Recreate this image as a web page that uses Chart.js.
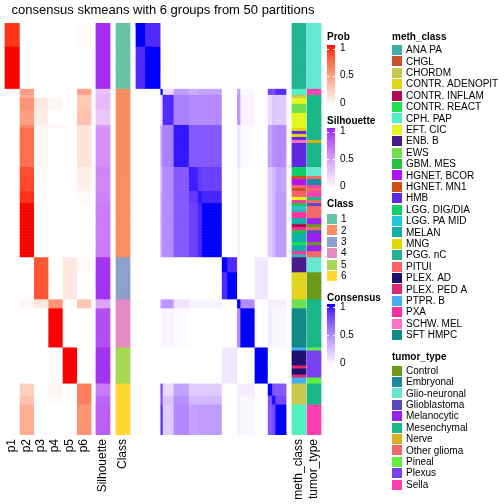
<!DOCTYPE html>
<html><head><meta charset="utf-8">
<script src="https://cdn.jsdelivr.net/npm/chart.js@4.4.1/dist/chart.umd.min.js"></script>
<style>html,body{margin:0;padding:0;background:#fff}canvas{display:block}</style>
</head><body>
<canvas id="c" width="504" height="504"></canvas>
<script>
// ================= DATA =================
const chartTitle = "consensus skmeans with 6 groups from 50 partitions";
const classNames = ["1","2","3","4","5","6"];
const classSizes = [22,56,14,16,12,17];
const classColors = ["#66C2A5","#FC8D62","#8DA0CB","#E78AC3","#A6D854","#FFD92F"];

// consecutive row segments sharing membership probabilities / silhouette
const segSizes = [8,14, 2,1,4,5,1,13,3,5,4,18, 5,9, 3,13, 12, 4,3,10];
const p1  = [0.92,1, 0,0,0,0,0,0,0,0,0,0, 0,0, 0,0, 0, 0,0,0];
const p2  = [0,0, 0.5,0.42,0.55,0.5,0.62,0.72,0.85,0.87,0.93,1, 0,0, 0.04,0, 0, 0.25,0.32,0.42];
const p3  = [0,0, 0,0,0.12,0.1,0.05,0.03,0.02,0.02,0,0, 0.82,0.82, 0.12,0, 0, 0,0,0];
const p4  = [0,0, 0,0,0.04,0,0.05,0,0,0,0,0, 0,0, 0.55,1, 0, 0.05,0.02,0];
const p5  = [0,0, 0,0,0,0,0,0,0,0,0,0, 0.12,0.12, 0,0, 1, 0,0,0];
const p6  = [0.03,0, 0.47,0.3,0.28,0.32,0.15,0.15,0.08,0.08,0.03,0, 0.03,0, 0.3,0, 0, 0.65,0.65,0.55];
const silhouette = [0.97,0.97, 0.3,0.35,0.35,0.28,0.5,0.55,0.6,0.58,0.62,0.65, 0.95,0.95, 0.45,0.85, 0.95, 0.65,0.75,0.78];

// consensus: sub-groups of samples (in row order) and block consensus values
const consGroupSizes = [8,14,2,10,14,8,4,18,5,9,3,13,12,4,3,10];
const consensusBlocks = [
 [1,.9,0,0,0,0,0,0,0,0,0,0,0,0,0,0],
 [.9,1,0,0,0,0,0,0,0,0,0,0,0,0,0,0],
 [0,0,1,.15,.42,.35,.4,.4,0,0,.4,.03,0,.8,.76,.89],
 [0,0,.15,.9,.55,.5,.5,.5,0,0,.45,.05,0,.15,.25,.22],
 [0,0,.42,.55,.96,.72,.72,.72,0,0,.12,.02,0,.4,.48,.5],
 [0,0,.35,.5,.72,.94,.85,.82,0,0,.05,0,0,.22,.3,.4],
 [0,0,.4,.5,.72,.85,.96,.92,0,0,.05,0,0,.22,.3,.43],
 [0,0,.4,.5,.72,.82,.92,1,0,0,.05,0,0,.22,.3,.43],
 [0,0,0,0,0,0,0,0,1,.9,0,0,.1,0,0,0],
 [0,0,0,0,0,0,0,0,.9,1,0,0,.1,0,0,0],
 [0,0,.4,.45,.12,.05,.05,.05,0,0,1,.5,0,.07,.07,.07],
 [0,0,.03,.05,.02,0,0,0,0,0,.5,1,0,.08,.04,.04],
 [0,0,0,0,0,0,0,0,.1,.1,0,0,1,0,0,0],
 [0,0,.8,.15,.4,.22,.22,.22,0,0,.07,.08,0,1,.75,.72],
 [0,0,.76,.25,.48,.3,.3,.3,0,0,.07,.04,0,.75,.98,.78],
 [0,0,.89,.22,.5,.4,.43,.43,0,0,.07,.04,0,.72,.78,1]
];

const methLevels = ["ANA PA","CHGL","CHORDM","CONTR. ADENOPIT","CONTR. INFLAM","CONTR. REACT","CPH. PAP","EFT. CIC","ENB. B","EWS","GBM. MES","HGNET. BCOR","HGNET. MN1","HMB","LGG. DIG/DIA","LGG. PA MID","MELAN","MNG","PGG. nC","PITUI","PLEX. AD","PLEX. PED A","PTPR. B","PXA","SCHW. MEL","SFT HMPC"];
const methColors = ["#3AAFB0","#C8502E","#C8C850","#E2D41E","#B0084A","#20E050","#52F0C2","#E2F820","#4A1A8A","#70E050","#20C040","#B010FF","#D05010","#6028E0","#10D068","#20C8D8","#10B0A8","#E0D800","#22B390","#FF6262","#201070","#E02870","#42B0F0","#FF30A0","#FF70C8","#108888"];
const methRuns = [
 ["PGG. nC",22],
 ["CPH. PAP",2],["CHORDM",1],["EFT. CIC",2],["EWS",3],["EFT. CIC",5],["MNG",1],["HMB",1],["MNG",1],["HMB",1],["SCHW. MEL",1],["HMB",8],
 ["LGG. DIG/DIA",3],["HGNET. MN1",1],["HGNET. BCOR",2],["PITUI",1],["CHGL",1],["PITUI",2],["EFT. CIC",1],["PXA",1],["GBM. MES",1],["LGG. PA MID",1],["ANA PA",1],["PXA",2],["MELAN",2],["CONTR. INFLAM",1],["PXA",1],["GBM. MES",1],["MELAN",3],["CONTR. REACT",1],["MELAN",2],["PXA",1],["ANA PA",1],
 ["ENB. B",5],["CONTR. ADENOPIT",9],
 ["EWS",3],["SFT HMPC",13],
 ["PTPR. B",1],["PLEX. AD",5],["PLEX. PED A",1],["PLEX. AD",2],["PLEX. PED A",1],["PTPR. B",2],
 ["CHORDM",7],["CPH. PAP",10]
];

const tumorLevels = ["Control","Embryonal","Glio-neuronal","Glioblastoma","Melanocytic","Mesenchymal","Nerve","Other glioma","Pineal","Plexus","Sella"];
const tumorColors = ["#6A9A18","#1A8AA0","#66E8D0","#5A48C0","#9A20F0","#18B888","#D8B020","#F06868","#60F040","#7840F0","#FF40B0"];
const tumorRuns = [
 ["Glio-neuronal",22],["Sella",2],["Mesenchymal",15],["Nerve",1],["Mesenchymal",8],["Glio-neuronal",3],["Other glioma",1],["Embryonal",2],
 ["Sella",1],["Other glioma",1],["Sella",2],["Mesenchymal",1],["Other glioma",1],["Glioblastoma",1],["Other glioma",4],["Melanocytic",2],
 ["Control",1],["Other glioma",1],["Glioblastoma",1],["Melanocytic",3],["Control",1],["Melanocytic",2],["Other glioma",2],
 ["Glio-neuronal",5],["Control",9],["Mesenchymal",16],["Pineal",1],["Plexus",9],["Pineal",2],["Mesenchymal",7],["Sella",10]
];

// ================= COLOUR RAMPS (LAB, like colorRamp2) =================
function hexToRgb(h){h=h.replace('#','');return [parseInt(h.slice(0,2),16),parseInt(h.slice(2,4),16),parseInt(h.slice(4,6),16)];}
function rgb2lab(c){const lin=v=>{v/=255;return v<=0.04045?v/12.92:Math.pow((v+0.055)/1.055,2.4)};const R=lin(c[0]),G=lin(c[1]),B=lin(c[2]);
 const X=(0.4124564*R+0.3575761*G+0.1804375*B)/0.95047,Y=(0.2126729*R+0.7151522*G+0.0721750*B),Z=(0.0193339*R+0.1191920*G+0.9503041*B)/1.08883;
 const f=t=>t>0.008856?Math.cbrt(t):7.787*t+16/116;const fx=f(X),fy=f(Y),fz=f(Z);return [116*fy-16,500*(fx-fy),200*(fy-fz)];}
function lab2rgb(l){const fy=(l[0]+16)/116,fx=fy+l[1]/500,fz=fy-l[2]/200;const fi=t=>{const t3=t*t*t;return t3>0.008856?t3:(t-16/116)/7.787};
 const X=fi(fx)*0.95047,Y=fi(fy),Z=fi(fz)*1.08883;
 const R=3.2404542*X-1.5371385*Y-0.4985314*Z,G=-0.9692660*X+1.8760108*Y+0.0415560*Z,B=0.0556434*X-0.2040259*Y+1.0572252*Z;
 const g=v=>{v=v<=0.0031308?12.92*v:1.055*Math.pow(v,1/2.4)-0.055;return Math.round(Math.max(0,Math.min(1,v))*255)};return [g(R),g(G),g(B)];}
function ramp(c0,c1){const a=rgb2lab(hexToRgb(c0)),b=rgb2lab(hexToRgb(c1));return v=>{v=Math.max(0,Math.min(1,v));const c=lab2rgb([0,1,2].map(k=>a[k]+(b[k]-a[k])*v));return `rgb(${c[0]},${c[1]},${c[2]})`;};}
const probCol = ramp('#FFFFFF','#FF0000');
const silCol  = ramp('#FFFFFF','#A020F0');
const consCol = ramp('#FFFFFF','#0000FF');

// ================= ROW EXPANSION =================
function expand(sizes, vals){const out=[];sizes.forEach((s,k)=>{for(let i=0;i<s;i++)out.push(vals[k]);});return out;}
const N = classSizes.reduce((a,b)=>a+b,0);
const sampleIds = Array.from({length:N},(_,i)=>"S"+(i+1));
const rowSeg   = expand(segSizes, segSizes.map((_,k)=>k));
const rowClass = expand(classSizes, classSizes.map((_,k)=>k));
const rowGroup = expand(consGroupSizes, consGroupSizes.map((_,k)=>k));
const rowMeth  = expand(methRuns.map(r=>r[1]), methRuns.map(r=>r[0]));
const rowTumor = expand(tumorRuns.map(r=>r[1]), tumorRuns.map(r=>r[0]));

// ================= LAYOUT (pixels) =================
const HM_TOP = 23, HM_BOTTOM = 435;
const pX0 = 5, pX1 = 91, pW = (pX1-pX0)/6;
const layout = {
  p1:[pX0,pX0+pW], p2:[pX0+pW,pX0+2*pW], p3:[pX0+2*pW,pX0+3*pW], p4:[pX0+3*pW,pX0+4*pW], p5:[pX0+4*pW,pX0+5*pW], p6:[pX0+5*pW,pX1],
  Silhouette:[96,110], Class:[116,130], consensus:[136,286], meth_class:[292,306], tumor_type:[307,321]
};
const consW = (layout.consensus[1]-layout.consensus[0])/N;

const barStyle = {grouped:false, barPercentage:1, categoryPercentage:1, borderWidth:0};
const datasets = [];
function annot(name, colorFn){
  const r = layout[name];
  datasets.push(Object.assign({label:name, data: sampleIds.map(()=>[r[0],r[1]]), backgroundColor: sampleIds.map((_,i)=>colorFn(i))}, barStyle));
}
const probs = {p1,p2,p3,p4,p5,p6};
Object.keys(probs).forEach(k=>annot(k, i=>probCol(probs[k][rowSeg[i]])));
annot("Silhouette", i=>silCol(silhouette[rowSeg[i]]));
annot("Class", i=>classColors[rowClass[i]]);
annot("meth_class", i=>methColors[methLevels.indexOf(rowMeth[i])]);
annot("tumor_type", i=>tumorColors[tumorLevels.indexOf(rowTumor[i])]);
// consensus matrix: one column band per sample sub-group
let cum = 0;
consGroupSizes.forEach((s,j)=>{
  const x0 = layout.consensus[0] + cum*consW, x1 = x0 + s*consW;
  datasets.push(Object.assign({label:"cons"+j, data: sampleIds.map(()=>[x0,x1]),
     backgroundColor: sampleIds.map((_,i)=>consCol(consensusBlocks[rowGroup[i]][j]))}, barStyle));
  cum += s;
});
// self-consensus diagonal (=1)
datasets.push(Object.assign({label:"diag", data: sampleIds.map((_,i)=>[layout.consensus[0]+i*consW, layout.consensus[0]+(i+1)*consW]),
   backgroundColor: consCol(1)}, barStyle));

// ================= TEXT & LEGENDS =================
const FONT = '"Liberation Sans", Arial, Helvetica, sans-serif';
function gradLegend(ctx, title, x, yTitle, top, bot, colFn, labelYs){
  ctx.fillStyle='#000'; ctx.font='bold 10px '+FONT; ctx.textAlign='left'; ctx.textBaseline='alphabetic';
  ctx.fillText(title, x, yTitle);
  for(let y=top;y<bot;y++){ ctx.fillStyle=colFn(1-(y-top)/(bot-top-1)); ctx.fillRect(x,y,8,1); }
  ctx.font='10px '+FONT; ctx.textBaseline='middle';
  [["1",labelYs[0]],["0.5",labelYs[1]],["0",labelYs[2]]].forEach(([t,y])=>{
    ctx.fillStyle='#fff'; ctx.fillRect(x,Math.round(y),2,1); ctx.fillRect(x+6,Math.round(y),2,1);
    ctx.fillStyle='#000'; ctx.fillText(t, x+13, y);
  });
}
function discLegend(ctx, title, x, yTitle, y0, step, levels, colors){
  ctx.fillStyle='#000'; ctx.font='bold 10px '+FONT; ctx.textAlign='left'; ctx.textBaseline='alphabetic';
  ctx.fillText(title, x, yTitle);
  ctx.font='10px '+FONT; ctx.textBaseline='middle';
  levels.forEach((l,k)=>{ const y=y0+k*step; ctx.fillStyle=colors[k]; ctx.fillRect(x,Math.round(y-5),10,10);
    ctx.fillStyle='#000'; ctx.fillText(l, x+14, y+0.5); });
}
const textPlugin = {id:'texts', afterDraw(chart){
  const ctx = chart.ctx; ctx.save();
  ctx.fillStyle='#000'; ctx.font='13px '+FONT; ctx.textAlign='center'; ctx.textBaseline='alphabetic';
  ctx.fillText(chartTitle, 163, 14);
  // column labels
  ctx.font='12px '+FONT;
  ["p1","p2","p3","p4","p5","p6","Silhouette","Class","meth_class","tumor_type"].forEach(n=>{
    const cx=(layout[n][0]+layout[n][1])/2;
    ctx.save(); ctx.translate(cx, HM_BOTTOM+4); ctx.rotate(-Math.PI/2);
    ctx.textAlign='right'; ctx.textBaseline='middle'; ctx.fillText(n,0,0); ctx.restore();
  });
  gradLegend(ctx,"Prob",327,40,45,106,probCol,[48.5,75.5,103]);
  gradLegend(ctx,"Silhouette",327,124,128,189,silCol,[131.5,159,186.5]);
  discLegend(ctx,"Class",327,207,219,11.4,classNames,classColors);
  gradLegend(ctx,"Consensus",327,301,304,366,consCol,[307,335,363]);
  discLegend(ctx,"meth_class",392,40,50,11.4,methLevels,methColors);
  discLegend(ctx,"tumor_type",392,360,370.5,11.4,tumorLevels,tumorColors);
  ctx.restore();
}};

new Chart(document.getElementById('c'), {
  type:'bar',
  data:{labels:sampleIds, datasets},
  options:{
    indexAxis:'y', responsive:false, animation:false, events:[],
    layout:{padding:{top:HM_TOP, bottom:504-HM_BOTTOM, left:0, right:0}},
    scales:{
      x:{type:'linear', min:0, max:504, display:false},
      y:{type:'category', display:false, offset:true}
    },
    plugins:{legend:{display:false}, tooltip:{enabled:false}, title:{display:false}}
  },
  plugins:[textPlugin]
});
</script>
</body></html>
